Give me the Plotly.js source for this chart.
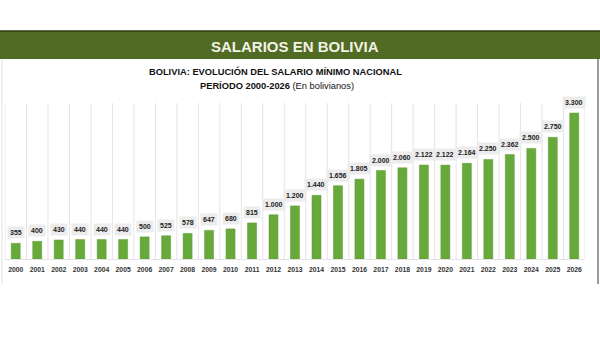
<!DOCTYPE html>
<html>
<head>
<meta charset="utf-8">
<script src="https://cdn.plot.ly/plotly-3.0.1.min.js"></script>
<style>html,body{margin:0;padding:0;background:#fff;}#chart{width:600px;height:338px;}</style>
</head>
<body>
<div id="chart"></div>
<script>
const years = ["2000","2001","2002","2003","2004","2005","2006","2007","2008","2009","2010","2011","2012","2013","2014","2015","2016","2017","2018","2019","2020","2021","2022","2023","2024","2025","2026"];
const salaries = [355,400,430,440,440,440,500,525,578,647,680,815,1000,1200,1440,1656,1805,2000,2060,2122,2122,2164,2250,2362,2500,2750,3300];
const bannerTitle = "SALARIOS EN BOLIVIA";
const subtitle1 = "BOLIVIA: EVOLUCIÓN DEL SALARIO MÍNIMO NACIONAL";
const subtitle2Bold = "PERÍODO 2000-2026";
const subtitle2Rest = " (En bolivianos)";

function fmt(v){ return String(v).replace(/\B(?=(\d{3})+(?!\d))/g, "."); }

const narrow = "'Liberation Sans Narrow', 'Arial Narrow', 'Liberation Sans', Arial, sans-serif";

const trace = {
  type: "bar",
  x: years,
  y: salaries,
  width: 0.42,
  marker: { color: "#68a93b", line: { color: "#5c9a32", width: 0.5 } },
  hoverinfo: "none"
};

const shapes = [];
// vertical separators between categories
for (let i = 0; i <= years.length; i++) {
  shapes.push({ type: "line", xref: "x", yref: "paper", x0: i - 0.5, x1: i - 0.5, y0: 0, y1: 1,
    line: { color: "#e4e4e4", width: 1 }, layer: "below" });
}

const annotations = salaries.map((v, i) => ({
  x: i, y: v, xref: "x", yref: "y",
  text: "<b>" + fmt(v) + "</b>",
  showarrow: false, yanchor: "bottom", yshift: 4,
  font: { family: narrow, size: 7, color: "#222" },
  bgcolor: "#ececec", borderpad: 2
}));

annotations.push(
  { xref: "paper", yref: "paper", x: 0.5, y: 1, xanchor: "center", yanchor: "bottom", yshift: 46,
    text: "<b>" + bannerTitle + "</b>", showarrow: false,
    font: { family: "'Liberation Sans', Arial, sans-serif", size: 15, color: "#f2f2e6" } },
  { xref: "paper", yref: "paper", x: 0.467, y: 1, xanchor: "center", yanchor: "bottom", yshift: 24,
    text: "<b>" + subtitle1 + "</b>", showarrow: false,
    font: { family: narrow, size: 9.3, color: "#111" } },
  { xref: "paper", yref: "paper", x: 0.469, y: 1, xanchor: "center", yanchor: "bottom", yshift: 10,
    text: "<b>" + subtitle2Bold + "</b>" + subtitle2Rest, showarrow: false,
    font: { family: narrow, size: 9.3, color: "#111" } }
);

const layout = {
  width: 600, height: 338,
  margin: { l: 5, r: 15, t: 103, b: 79 },
  paper_bgcolor: "#ffffff",
  plot_bgcolor: "#ffffff",
  showlegend: false,
  xaxis: {
    type: "category", range: [-0.5, years.length - 0.5],
    showgrid: false, zeroline: false, showline: true, linecolor: "#e4e4e4", linewidth: 1,
    ticks: "", ticklabelstandoff: 4,
    tickfont: { family: narrow, size: 6.8, color: "#333" },
    tickvals: years, ticktext: years.map(y => "<b>" + y + "</b>"),
    fixedrange: true
  },
  yaxis: {
    range: [0, 3526], showgrid: false, zeroline: false, showticklabels: false, ticks: "",
    fixedrange: true
  },
  shapes: shapes.concat([
    { type: "rect", xref: "paper", yref: "paper", x0: -0.0086, x1: 1.0259, y0: 1 + (103 - 59) / 156, y1: 1 + (103 - 31) / 156,
      fillcolor: "#516b24", line: { width: 0 } },
    { type: "line", xref: "paper", yref: "paper", x0: -0.0086, x1: 1.0259, y0: 1 + (103 - 31) / 156, y1: 1 + (103 - 31) / 156,
      line: { color: "#2f3d12", width: 1.5 } },
    { type: "line", xref: "paper", yref: "paper", x0: 1.0224, x1: 1.0224, y0: -(284 - 259) / 156, y1: 1 + (103 - 59) / 156,
      line: { color: "#7a7a7a", width: 1.5 } },
    { type: "line", xref: "paper", yref: "paper", x0: -0.0052, x1: -0.0052, y0: -(284 - 259) / 156, y1: 1 + (103 - 59) / 156,
      line: { color: "#e0e0e0", width: 1 } }
  ]),
  annotations: annotations
};

Plotly.newPlot("chart", [trace], layout, { displayModeBar: false, staticPlot: true });
</script>
</body>
</html>
